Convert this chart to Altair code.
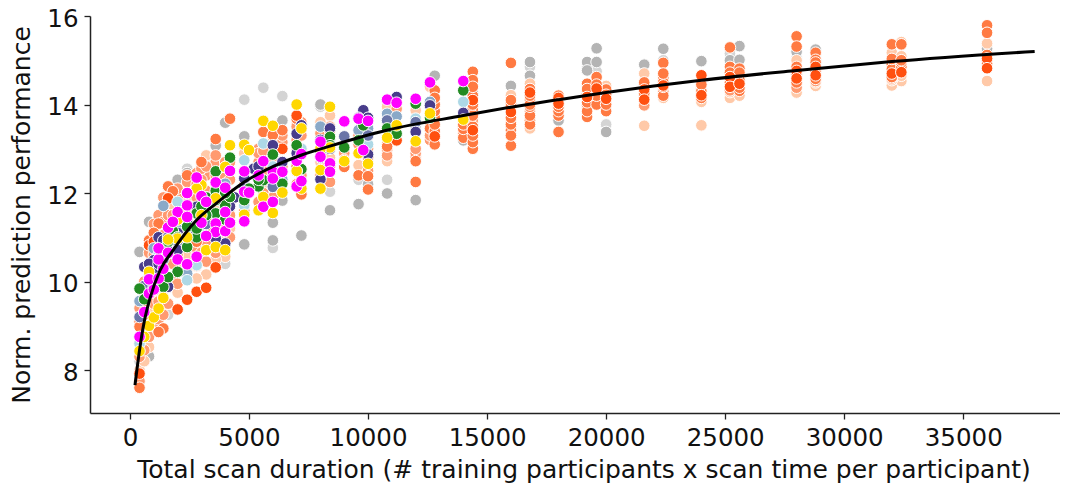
import altair as alt
import pandas as pd

x_label = "Total scan duration (# training participants x scan time per participant)"
y_label = "Norm. prediction performance"
x_ticks = [0, 5000, 10000, 15000, 20000, 25000, 30000, 35000]
y_ticks = [8, 10, 12, 14, 16]

curve_x = [210, 420, 600, 840, 1260, 1800, 2800, 3610, 4800, 6020, 7210, 8330, 10785, 14000, 16000, 18000, 20000, 22000, 24000, 28000, 32000, 38000]
curve_y = [7.66, 8.52, 9.1, 9.62, 10.25, 10.7, 11.39, 11.76, 12.25, 12.6, 12.86, 13.05, 13.42, 13.75, 13.94, 14.11, 14.27, 14.42, 14.55, 14.77, 14.97, 15.2]

light_gray = [(4800,14.11),(5600,14.38),(6400,14.19),(6000,10.76),(8400,12.03),(9600,12.30),(10800,12.30),(2400,12.55),(3000,12.62),(3200,12.75),(4800,13.05),(7200,13.55),(8000,13.95),(12000,13.5),(14400,13.95),(16800,14.85),(19200,14.85),(19600,14.75),(20000,13.55),(22400,15.0),(25200,15.15),(25200,14.98),(28000,15.05),(28800,15.1),(32000,15.0),(36000,15.22),(1000,9.4),(1600,9.25),(3600,10.35),(4000,10.4),(6400,11.85),(600,8.6),(400,8.2)]
dark_gray = [(800,8.31),(800,11.35),(400,10.67),(2000,12.30),(3600,13.07),(4000,13.59),(4800,13.28),(4800,10.84),(6000,11.33),(6000,10.93),(7200,11.04),(6400,13.64),(8000,14.0),(8400,11.61),(9600,11.75),(10800,11.99),(12000,11.84),(12800,14.65),(14000,13.19),(14400,14.25),(16000,14.42),(16800,14.96),(16800,14.65),(18000,13.64),(19200,14.96),(19200,14.77),(19600,15.27),(19600,14.96),(20000,13.38),(21600,14.90),(22400,15.26),(24000,14.98),(25200,15.0),(25600,15.32),(25600,15.01),(28000,15.19),(28800,15.24),(32000,14.95),(36000,15.26),(2400,12.45),(7000,13.75),(10000,12.2),(3000,12.2),(6400,11.83)]
peach = [(400,8.0),(800,8.52),(2000,9.75),(3200,10.16),(2800,10.07),(4000,10.56),(3600,10.5),(1200,11.31),(1400,11.6),(3000,12.48),(3200,12.85),(2400,10.6),(2000,10.3),(2800,10.6),(3000,11.0),(4200,11.2),(1000,9.0),(600,8.2),(4800,12.9),(5600,12.2),(6000,13.2),(7000,13.55),(8000,13.6),(8400,13.75),(9600,12.63),(10800,13.95),(10800,12.72),(12000,13.87),(12600,14.4),(14400,13.18),(16000,14.21),(16800,14.47),(16800,13.46),(20000,14.42),(21600,14.70),(21600,13.52),(22400,14.15),(24000,14.06),(24000,13.53),(25200,14.15),(25600,14.2),(28000,15.0),(28000,14.27),(28800,14.42),(32000,15.17),(32000,14.43),(32400,15.41),(32400,15.09),(32400,14.53),(36000,15.38),(36000,14.53),(4000,11.0),(3600,11.6),(2400,11.9),(1800,11.7),
         (600,9.0),(800,9.4),(1000,9.7),(1200,9.8),(1400,9.9),(1600,10.4),(1800,10.7),(2000,11.1),(2400,11.3),(2800,11.2),(3000,11.8),(3200,11.6),(3600,12.0),(4000,11.7),(4200,12.0),(4800,12.2),(5400,12.2),(6000,12.2),(7000,12.5),(8000,12.7),(8400,12.8),(14000,13.35),(14400,13.6),(16000,13.5),(19200,13.85),(22400,14.3),(25200,14.28),(28000,14.45),(28800,14.5),(32000,14.55),(32400,14.65)]
salmon = [(800,9.0),(1200,8.95),(1600,9.9),(2400,11.1),(2800,11.9),(3200,12.4),(3600,12.7),(4000,12.2),(4200,11.0),(5400,13.0),(6000,12.9),(7200,13.0),(8400,13.5),(9000,12.9),(9600,12.9),(10800,12.97),(12000,12.82),(12600,13.46),(14000,13.35),(14400,13.65),(16000,13.6),(16800,13.85),(18000,13.9),(19200,13.98),(21600,13.98),(22400,14.3),(25200,14.32),(28000,14.38),(28800,14.53),(32000,14.59),(4800,11.9),(1400,10.0),
          (400,7.75),(400,8.3),(400,8.6),(400,9.1),(400,9.4),(600,8.45),(600,8.75),(600,9.25),(600,10.0),(800,8.75),(800,9.65),(800,10.35),(800,10.65),(1000,9.5),(1000,10.05),(1000,10.6),(1000,11.3),(1200,9.15),(1200,9.55),(1200,10.2),(1200,10.9),(1200,11.5),(1400,9.25),(1400,9.65),(1400,10.35),(1400,10.7),(1400,11.05),(1400,11.35),(1400,11.9),(1600,9.5),(1600,10.0),(1600,10.9),(1600,11.5),(1800,10.0),(1800,10.4),(1800,11.0),(1800,11.5),(1800,11.9),(2000,9.95),(2000,10.6),(2000,11.4),(2000,11.9),(2000,12.1),(2400,10.3),(2400,10.9),(2400,11.6),(2400,12.0),(2400,12.25),(2800,10.35),(2800,10.75),(2800,11.6),(2800,12.2),(2800,12.45),(3000,10.65),(3000,11.3),(3000,12.3),(3000,12.55),(3200,10.45),(3200,10.9),(3200,11.15),(3200,12.05),(3200,12.6),(3600,10.65),(3600,11.4),(3600,12.4),(3600,12.85),(4000,10.75),(4000,11.25),(4000,12.0),(4000,12.35),(4000,12.7),(4200,11.5),(4200,12.3),(4200,12.7),(4800,11.6),(4800,12.5),(5400,11.8),(5400,12.7),(5400,12.9),(5600,12.0),(5600,12.5),(5600,12.95),(6000,11.9),(6000,12.7),(6000,13.1),(6400,12.2),(6400,12.6),(6400,13.15),(6400,13.3),(7000,12.2),(7000,12.95),(7000,13.2),(7000,13.5),(7200,12.0),(7200,12.4),(7200,13.3),(7200,13.6),(8000,12.4),(8000,13.0),(8000,13.35),(8400,12.25),(8400,13.15),(8400,13.4),(9000,12.75),(9600,13.1),(9600,13.3),(10000,12.5),(10000,12.8),(10000,13.0),(10000,13.3),(10800,12.85),(10800,13.1),(11200,13.3),(11200,13.5),(11200,13.9),(12000,12.9),(12000,13.0),(12600,13.2),(12600,13.3),(12600,13.6)]
coral = [(400,7.6),(400,8.98),(1400,8.94),(1200,8.86),(600,9.5),(800,10.93),(1600,12.15),(1800,12.04),(1200,11.31),(2400,12.40),(3000,12.70),(3600,13.22),(4200,13.68),(5600,13.38),(6000,13.31),(6400,13.42),(7000,13.68),(7200,11.97),(8400,12.59),(9000,12.59),(9600,12.40),(10000,12.38),(10000,12.08),(10800,13.05),(12000,12.25),(12000,12.72),(12600,13.46),(12800,14.32),(12800,13.7),(12800,13.1),(14000,13.5),(14400,14.74),(14400,14.55),(14400,13.9),(14400,13.0),(16000,14.94),(16000,14.02),(16000,13.07),(16000,13.42),(16800,14.10),(16800,13.64),(18000,13.38),(19200,13.72),(19200,14.47),(19600,14.62),(20000,13.85),(20000,14.34),(22400,14.94),(22400,14.6),(24000,14.36),(25200,15.29),(25200,14.85),(25600,14.81),(25600,14.31),(28000,15.54),(28000,15.31),(28800,15.17),(28800,15.01),(32000,15.36),(32000,14.91),(32400,15.36),(36000,15.79),(36000,15.62),(2000,11.0),(2800,10.9),(3200,11.4),(4000,11.9),(1000,11.1),(7000,12.6),
         (12800,13.4),(12800,13.55),(12800,13.85),(12800,14.0),(12800,14.15),(14000,13.25),(14000,13.45),(14000,13.55),(14400,13.15),(14400,13.3),(14400,13.5),(14400,13.75),(14400,14.0),(14400,14.2),(14400,14.4),(16000,13.3),(16000,13.55),(16000,13.7),(16000,13.95),(16000,14.1),(16800,13.55),(16800,13.75),(16800,13.95),(16800,14.0),(16800,14.2),(16800,14.35),(18000,13.75),(18000,13.85),(18000,13.95),(18000,14.05),(18000,14.2),(19200,13.85),(19200,14.05),(19200,14.25),(19200,14.35),(19600,14.0),(19600,14.2),(19600,14.45),(20000,14.0),(20000,14.22),(21600,14.15),(21600,14.25),(21600,14.42),(21600,14.5),(22400,14.2),(22400,14.4),(22400,14.5),(22400,14.7),(24000,14.3),(24000,14.45),(24000,14.15),(25200,14.42),(25200,14.5),(25200,14.72),(25600,14.38),(25600,14.55),(25600,14.72),(28000,14.5),(28000,14.68),(28000,14.85),(28800,14.58),(28800,14.75),(28800,14.95),(32000,14.62),(32000,14.8),(32000,15.03),(32400,14.85),(32400,14.95),(32400,15.0),(36000,14.92),(36000,15.12)]
orange_red = [(400,7.92),(2000,9.37),(2400,9.59),(2800,9.77),(3200,9.86),(3600,10.32),(800,10.82),(1600,11.88),(1000,10.9),(6400,13.0),(7000,13.75),(11200,13.19),(12800,13.28),(14400,14.1),(14400,13.42),(16000,13.83),(16800,14.27),(18000,14.15),(18000,14.02),(19200,14.17),(19600,14.36),(20000,14.13),(21600,14.34),(21600,14.11),(22400,14.43),(24000,14.66),(24000,14.21),(25200,14.62),(25200,14.4),(25600,14.47),(28000,14.76),(28000,14.59),(28800,14.85),(28800,14.66),(32000,14.70),(32400,14.73),(36000,15.04),(36000,14.82)]
steel = [(400,9.56),(1400,11.71),(1000,10.75),(2400,10.18),(4000,12.21),(3000,11.6),(8000,13.5),(8400,13.2),(9600,13.42),(10000,13.46),(10800,13.79),(11200,13.73),(12600,14.06),(800,9.9),(2000,11.2),(6400,12.3)]
light_blue = [(2400,10.03),(2800,10.37),(2000,11.8),(4800,12.74),(4800,11.72),(5600,13.12),(1200,10.6),(3600,11.0),(800,9.8),(400,8.6),(6000,12.6),(7200,13.0),(10000,13.1),(12000,13.68),(14000,14.06),(3000,11.1)]
slate = [(400,9.2),(2000,10.9),(3200,11.3),(6000,12.14),(9000,13.28),(10800,13.64),(12000,13.6),(600,9.9),(1400,10.5),(10000,13.3),(4800,12.0)]
dark_slate = [(600,10.33),(1000,10.48),(1200,11.0),(1400,10.93),(1600,9.88),(1600,10.71),(2000,10.71),(2400,11.16),(2800,11.69),(3000,11.46),(4000,10.86),(3600,10.97),(4400,11.9),(4800,12.33),(5200,12.55),(5400,12.60),(6000,13.08),(6400,12.70),(7000,13.34),(7200,13.53),(8000,12.31),(8400,13.46),(9800,13.87),(10000,12.87),(11200,14.17),(12000,13.38),(12600,13.98),(14000,13.81),(1000,9.9),(800,10.1),(8000,13.2),(3200,11.6),
              (1000,10.2),(800,10.4),(1200,10.4),(1600,11.0),(2000,11.1),(2400,11.4),(2800,11.1),(3200,11.9),(3600,12.0),(4000,11.4),(4200,11.7),(4800,12.1),(5400,12.3),(7000,12.9),(8400,13.0),(8000,12.8),(9600,13.7),(10000,13.7)]
green = [(400,9.84),(600,9.60),(1400,9.88),(2000,10.22),(1600,10.10),(2400,10.78),(2800,11.0),(1800,11.14),(2400,11.24),(2800,11.54),(3600,12.49),(3600,11.54),(4000,11.72),(4200,12.80),(4200,11.91),(3600,11.84),(4800,11.84),(5400,12.15),(5600,12.29),(6000,12.87),(6400,12.21),(7000,13.08),(7200,12.54),(8400,13.27),(8400,13.08),(9000,13.03),(9600,13.19),(9800,13.53),(10800,13.46),(11200,13.34),(12000,14.02),(12600,13.70),(14000,14.32),(3200,11.5),(5000,12.1),
         (3000,11.7),(3200,11.9),(3600,12.05),(4000,12.0),(4000,11.4),(2000,11.0),(1600,10.9),(2800,11.2),(5400,12.3),(6000,12.4),(7000,12.5),(8000,12.95)]
gold = [(400,8.43),(600,8.75),(800,9.0),(1000,9.19),(1200,9.39),(1400,9.63),(800,10.22),(3200,10.71),(3600,10.78),(4000,10.71),(2000,10.97),(2400,11.0),(4200,13.08),(4800,13.09),(5000,12.97),(5600,13.63),(6000,13.52),(7000,14.0),(7200,13.46),(8000,12.10),(8000,12.52),(4800,11.51),(5600,11.91),(5400,11.61),(6000,11.55),(6400,12.01),(3600,11.88),(3000,12.18),(4000,12.59),(8400,13.95),(8400,13.03),(9000,12.72),(9600,12.9),(10000,12.66),(10800,13.25),(11200,13.53),(12000,13.17),(12600,13.8),(14000,13.66),
        (2000,11.4),(2800,12.1),(1600,10.95),(3000,11.5),(7000,12.5),(7200,12.1),(8000,13.0)]
magenta = [(400,8.75),(600,9.31),(800,9.73),(1000,9.82),(800,10.05),(1200,10.07),(1400,10.29),(1200,10.50),(1200,10.75),(1600,10.65),(2000,10.50),(2400,10.39),(2800,10.56),(2000,11.57),(2400,12.0),(2400,11.72),(2400,11.46),(1600,11.22),(1800,11.35),(3000,11.93),(2800,12.35),(3600,12.24),(4000,12.12),(3200,11.80),(3000,11.33),(3600,11.31),(3600,11.12),(3200,11.03),(4000,11.14),(4000,11.57),(4200,11.33),(4200,12.50),(4800,12.49),(4800,12.03),(5000,12.01),(4800,11.36),(5600,12.72),(5400,12.40),(6000,12.48),(6000,12.33),(6400,12.48),(5600,11.69),(6000,11.80),(7000,12.73),(7200,12.88),(7000,12.15),(7200,12.27),(8000,13.16),(8000,12.82),(8400,12.67),(8400,12.48),(9000,13.62),(9600,13.68),(9800,12.97),(10000,13.63),(10800,14.11),(11200,14.04),(12000,14.13),(12600,14.50),(14000,14.53)]

series = [
    ("light_gray", "#d4d4d4", light_gray),
    ("dark_gray", "#b4b4b4", dark_gray),
    ("peach", "#ffc9a8", peach),
    ("salmon", "#ff9a70", salmon),
    ("coral", "#ff7a42", coral),
    ("orange_red", "#ff5010", orange_red),
    ("steel", "#8aa9c8", steel),
    ("light_blue", "#add8e6", light_blue),
    ("slate", "#6a75a8", slate),
    ("dark_slate", "#483d8b", dark_slate),
    ("green", "#228b22", green),
    ("gold", "#ffd700", gold),
    ("magenta", "#ff00ff", magenta),
]

rows = []
for name, color, pts in series:
    for px, py in pts:
        rows.append({"x": px, "y": py, "s": name})
points = pd.DataFrame(rows)
curve = pd.DataFrame({"x": curve_x, "y": curve_y})

FONT = "DejaVu Sans"
x_scale = alt.Scale(domain=[-1680, 39400], nice=False, zero=False)
y_scale = alt.Scale(domain=[7.03, 16], nice=False, zero=False)
x_axis = alt.Axis(title=x_label, values=x_ticks, format="d", grid=False, labelFontSize=24.5, titleFontSize=25,
                  tickSize=6, tickWidth=1.3, domainWidth=1.5, domainColor="#222222", tickColor="#222222",
                  labelColor="#111111", titleColor="#111111", labelFont=FONT, titleFont=FONT, labelPadding=7,
                  titlePadding=8, titleFontWeight="normal", labelFlush=False, titleX=493.5)
y_axis = alt.Axis(title=y_label, values=y_ticks, grid=False, labelFontSize=24.5, titleFontSize=25,
                  tickSize=6, tickWidth=1.3, domainWidth=1.5, domainColor="#222222", tickColor="#222222",
                  labelColor="#111111", titleColor="#111111", labelFont=FONT, titleFont=FONT, labelPadding=6,
                  titlePadding=12, titleFontWeight="normal", labelOffset=3.3)

scatter = alt.Chart(points).mark_circle(opacity=1, size=135, stroke="white", strokeWidth=1).encode(
    x=alt.X("x:Q", scale=x_scale, axis=x_axis),
    y=alt.Y("y:Q", scale=y_scale, axis=y_axis),
    color=alt.Color("s:N", legend=None,
                    scale=alt.Scale(domain=[s[0] for s in series], range=[s[1] for s in series])),
)
line = alt.Chart(curve).mark_line(color="black", strokeWidth=3, interpolate="monotone").encode(
    x=alt.X("x:Q", scale=x_scale, axis=x_axis),
    y=alt.Y("y:Q", scale=y_scale, axis=y_axis),
)

chart = (scatter + line).properties(
    width=978, height=397,
    background="white",
    autosize=alt.AutoSizeParams(type="none"),
    padding={"left": 82, "top": 8, "right": -8, "bottom": 76},
).configure_view(stroke=None)

chart.save("out.html", embed_options={"renderer": "svg", "actions": False})
